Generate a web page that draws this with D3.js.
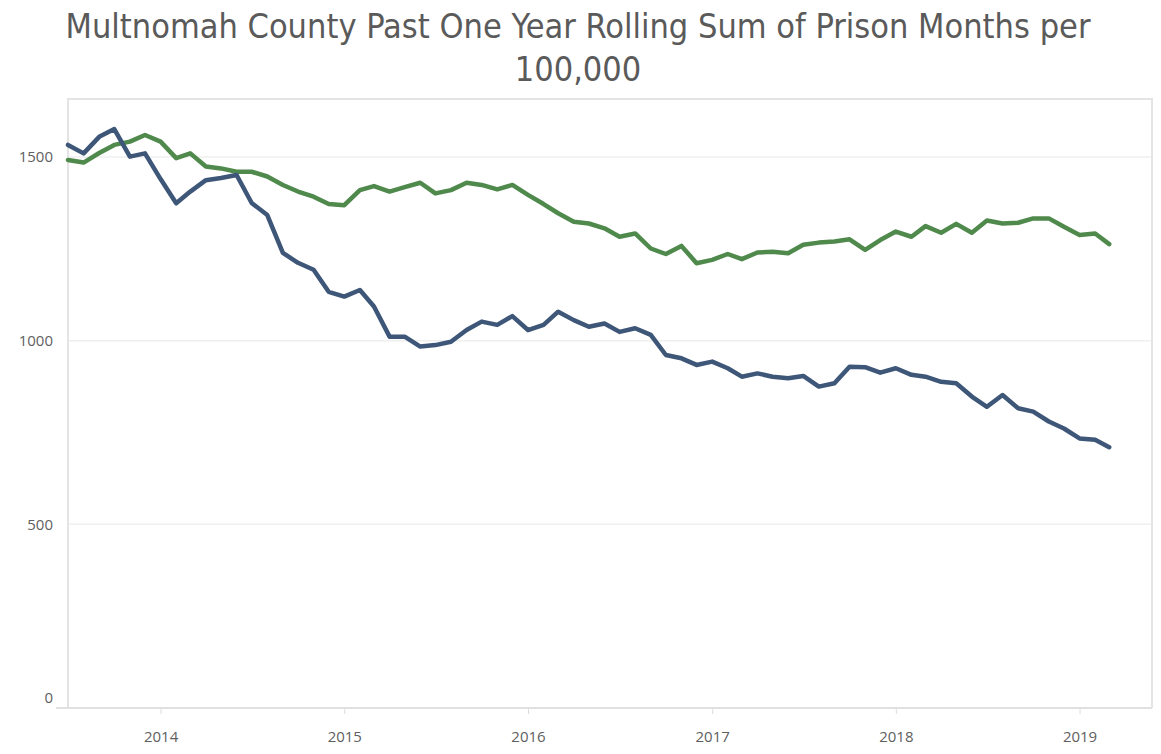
<!DOCTYPE html>
<html lang="en">
<head>
<meta charset="utf-8">
<title>Multnomah County Past One Year Rolling Sum of Prison Months per 100,000</title>
<style>
	html, body {
		margin: 0;
		padding: 0;
		background: #fff;
	}
	.title {
		font-family: 'DejaVu Sans Condensed', 'Open Sans', sans-serif;
		font-size: 34px;
		fill: #5a5a5a;
	}
	.axis text {
		font-family: 'Open Sans', 'DejaVu Sans', sans-serif;
		font-size: 15px;
		fill: #606060;
	}
	.grid line {
		stroke: #efefef;
		stroke-width: 1.5;
	}
	.line {
		fill: none;
		stroke-width: 4.5;
		stroke-linejoin: round;
		stroke-linecap: round;
	}
</style>
</head>
<body>
<svg width="1161" height="754"></svg>
<script src="https://cdn.jsdelivr.net/npm/d3@7"></script>
<script>
// monthly points, Jul 2013 .. Mar 2019
var startMonth = new Date(2013, 6, 1),
    monthCount = 69;

// blue series
var blueValues = [1533, 1510, 1555, 1576, 1501, 1510, 1440, 1374, 1406, 1437,
                  1443, 1451, 1375, 1342, 1239, 1212, 1193, 1133, 1120, 1138,
                  1093, 1011, 1011, 984, 988, 997, 1029, 1052, 1043, 1067,
                  1029, 1043, 1079, 1056, 1038, 1047, 1024, 1034, 1016, 961,
                  952, 934, 943, 925, 902, 911, 902, 898, 904, 875,
                  884, 929, 928, 913, 925, 907, 902, 888, 884, 848,
                  820, 852, 816, 807, 780, 761, 734, 730, 710];

// green series
var greenValues = [1492, 1485, 1511, 1533, 1542, 1560, 1542, 1497, 1510, 1474,
                   1469, 1460, 1460, 1447, 1424, 1406, 1392, 1372, 1369, 1410,
                   1421, 1406, 1418, 1430, 1401, 1410, 1430, 1424, 1412, 1424,
                   1397, 1372, 1347, 1324, 1319, 1306, 1283, 1292, 1251, 1236,
                   1258, 1211, 1220, 1236, 1222, 1240, 1242, 1238, 1261, 1267,
                   1270, 1276, 1247, 1274, 1297, 1283, 1312, 1294, 1318, 1294,
                   1327, 1319, 1321, 1333, 1333, 1310, 1288, 1292, 1263];

var yTicks = [0, 500, 1000, 1500],
    xTickYears = [2014, 2015, 2016, 2017, 2018, 2019];

var titleLines = ["Multnomah County Past One Year Rolling Sum of Prison Months per", "100,000"];

var blueColor = "#3e5779",
    greenColor = "#4f8a4c";

var months = d3.range(monthCount).map(function(i) {
  return d3.timeMonth.offset(startMonth, i);
});

var svg = d3.select("svg"),
    margin = {top: 99, right: 9, bottom: 46, left: 68},
    width = +svg.attr("width") - margin.left - margin.right,
    height = +svg.attr("height") - margin.top - margin.bottom;

var x = d3.scaleTime()
    .domain([startMonth, new Date(2019, 4, 25)])
    .range([0, width]);

var y = d3.scaleLinear()
    .domain([0, 1658])
    .range([height, 0]);

// title
svg.append("g").selectAll("text")
  .data(titleLines)
  .enter().append("text")
    .attr("class", "title")
    .attr("x", 578)
    .attr("y", function(d, i) { return 38 + i * 43; })
    .attr("text-anchor", "middle")
    .text(function(d) { return d; });

var g = svg.append("g")
    .attr("transform", "translate(" + margin.left + "," + margin.top + ")");

// gridlines
g.append("g")
    .attr("class", "grid")
  .selectAll("line")
  .data(yTicks.filter(function(d) { return d > 0; }))
  .enter().append("line")
    .attr("x1", 0)
    .attr("x2", width)
    .attr("y1", function(d) { return y(d); })
    .attr("y2", function(d) { return y(d); });

// pane border (top, left, right)
g.append("path")
    .attr("d", "M0," + height + "V0H" + width + "V" + height)
    .attr("fill", "none")
    .attr("stroke", "#e4e4e4")
    .attr("stroke-width", 2);

// x axis
var xAxis = g.append("g")
    .attr("class", "axis axis--x")
    .attr("transform", "translate(0," + height + ")")
    .call(d3.axisBottom(x)
      .tickValues(xTickYears.map(function(d) { return new Date(d, 0, 1); }))
      .tickFormat(d3.timeFormat("%Y"))
      .tickSize(6)
      .tickPadding(17));
xAxis.select(".domain").remove();
xAxis.selectAll(".tick line").attr("stroke", "#ddd");

g.append("line")
    .attr("x1", -12)
    .attr("x2", width)
    .attr("y1", height)
    .attr("y2", height)
    .attr("stroke", "#e0e0e0")
    .attr("stroke-width", 2);

// y axis
var yAxis = g.append("g")
    .attr("class", "axis axis--y")
    .call(d3.axisLeft(y)
      .tickValues(yTicks)
      .tickFormat(d3.format("d"))
      .tickSize(0)
      .tickPadding(15));
yAxis.select(".domain").remove();
yAxis.selectAll(".tick text")
    .attr("dy", function(d) { return d === 0 ? "-0.4em" : "0.32em"; });

// lines
var line = d3.line()
    .x(function(d, i) { return x(months[i]); })
    .y(function(d) { return y(d); });

g.append("path")
    .datum(greenValues)
    .attr("class", "line")
    .attr("stroke", greenColor)
    .attr("d", line);

g.append("path")
    .datum(blueValues)
    .attr("class", "line")
    .attr("stroke", blueColor)
    .attr("d", line);
</script>
</body>
</html>
